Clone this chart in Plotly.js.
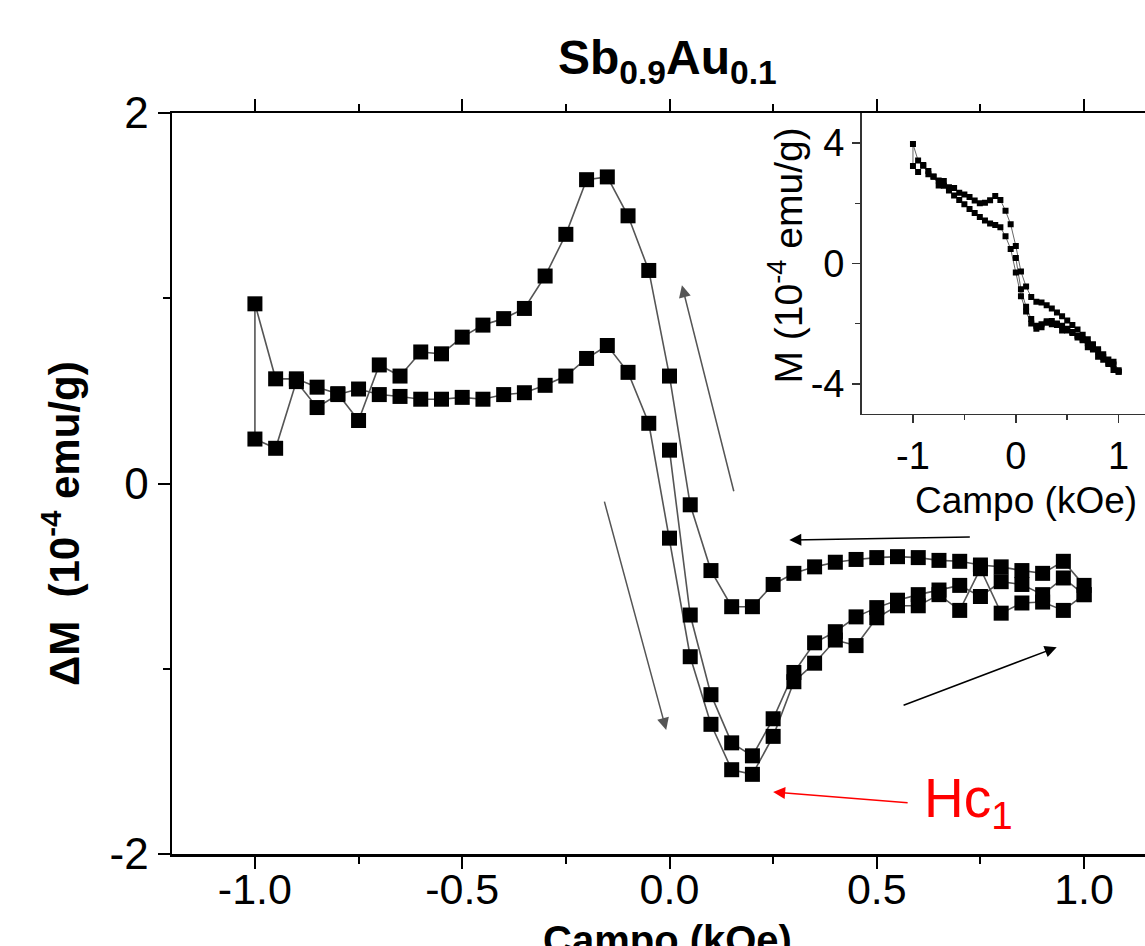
<!DOCTYPE html>
<html>
<head>
<meta charset="utf-8">
<script src="https://cdn.plot.ly/plotly-3.0.1.min.js"></script>
<style>
html,body{margin:0;padding:0;overflow:hidden;background:#fff;}
#chart{width:1200px;height:946px;}
</style>
</head>
<body>
<div id="chart"></div>
<script>
// Main plot: field sweeps (kOe) and ΔM (10^-4 emu/g)
var virginH = [0,0.05,0.1,0.15,0.2,0.25,0.3,0.35,0.4,0.45,0.5,0.55,0.6,0.65,0.7,0.75,0.8,0.85,0.9,0.95,1.0];
var virginDM = [0.18,-0.71,-1.14,-1.40,-1.47,-1.27,-1.02,-0.86,-0.80,-0.72,-0.67,-0.63,-0.60,-0.575,-0.55,-0.61,-0.53,-0.545,-0.60,-0.51,-0.60];

var downH = [1.0,0.95,0.9,0.85,0.8,0.75,0.7,0.65,0.6,0.55,0.5,0.45,0.4,0.35,0.3,0.25,0.2,0.15,0.1,0.05,0,-0.05,-0.1,-0.15,-0.2,-0.25,-0.3,-0.35,-0.4,-0.45,-0.5,-0.55,-0.6,-0.65,-0.7,-0.75,-0.8,-0.85,-0.9,-0.95,-1.0];
var downDM = [-0.55,-0.42,-0.485,-0.47,-0.45,-0.44,-0.42,-0.415,-0.40,-0.395,-0.40,-0.41,-0.425,-0.45,-0.485,-0.545,-0.665,-0.665,-0.47,-0.115,0.58,1.15,1.445,1.655,1.64,1.345,1.12,0.945,0.89,0.855,0.79,0.70,0.71,0.58,0.64,0.34,0.485,0.52,0.565,0.565,0.97];

var upH = [-1.0,-0.95,-0.9,-0.85,-0.8,-0.75,-0.7,-0.65,-0.6,-0.55,-0.5,-0.45,-0.4,-0.35,-0.3,-0.25,-0.2,-0.15,-0.1,-0.05,0,0.05,0.1,0.15,0.2,0.25,0.3,0.35,0.4,0.45,0.5,0.55,0.6,0.65,0.7,0.75,0.8,0.85,0.9,0.95,1.0];
var upDM = [0.24,0.19,0.55,0.41,0.48,0.51,0.48,0.47,0.455,0.455,0.465,0.455,0.48,0.49,0.53,0.58,0.675,0.745,0.60,0.325,-0.295,-0.935,-1.30,-1.545,-1.57,-1.365,-1.07,-0.97,-0.845,-0.875,-0.725,-0.66,-0.66,-0.60,-0.685,-0.46,-0.70,-0.645,-0.64,-0.685,-0.60];

// Inset: M (10^-4 emu/g) for the same sweeps
var virginM = [0.18,-0.86,-1.44,-1.85,-2.07,-2.02,-1.92,-1.91,-2.00,-2.07,-2.17,-2.28,-2.40,-2.53,-2.65,-2.86,-2.93,-3.10,-3.30,-3.36,-3.60];
var downM = [-3.55,-3.27,-3.19,-3.02,-2.85,-2.69,-2.52,-2.37,-2.20,-2.05,-1.90,-1.76,-1.63,-1.50,-1.39,-1.30,-1.27,-1.12,-0.77,-0.27,0.58,1.30,1.75,2.11,2.24,2.10,2.02,2.00,2.09,2.21,2.29,2.35,2.51,2.53,2.74,2.59,2.89,3.07,3.27,3.42,3.97];
var upM = [3.24,3.04,3.25,2.96,2.88,2.76,2.58,2.42,2.26,2.11,1.97,1.81,1.68,1.54,1.43,1.33,1.28,1.20,0.90,0.48,-0.30,-1.09,-1.60,-2.00,-2.17,-2.12,-1.97,-2.02,-2.05,-2.23,-2.23,-2.31,-2.46,-2.55,-2.79,-2.71,-3.10,-3.20,-3.34,-3.54,-3.60];

var mainTickVals = [-1.0,-0.5,0.0,0.5,1.0];
var mainTickText = ['-1.0','-0.5','0.0','0.5','1.0'];
var mainYTickVals = [-2,0,2];
var mainYTickText = ['-2','0','2'];
var insetXTickVals = [-1,0,1];
var insetXTickText = ['-1','0','1'];
var insetYTickVals = [-4,0,4];
var insetYTickText = ['-4','0','4'];

var FONT = 'Liberation Sans, Arial, Helvetica, sans-serif';

var mainTrace = {
  x: virginH.concat(downH, upH),
  y: virginDM.concat(downDM, upDM),
  xaxis: 'x', yaxis: 'y',
  mode: 'lines+markers',
  line: {color: '#555555', width: 1.6},
  marker: {symbol: 'square', size: 15, color: '#000000'},
  showlegend: false, hoverinfo: 'skip'
};
var insetTrace = {
  x: virginH.concat(downH, upH),
  y: virginM.concat(downM, upM),
  xaxis: 'x2', yaxis: 'y2',
  mode: 'lines+markers',
  line: {color: '#666666', width: 1},
  marker: {symbol: 'square', size: 6, color: '#000000'},
  showlegend: false, hoverinfo: 'skip'
};

function arrow(x, y, ax, ay, color, width) {
  return {x: x, y: y, ax: ax, ay: ay, xref: 'x', yref: 'y', axref: 'x', ayref: 'y',
    text: '', showarrow: true, arrowhead: 2, arrowsize: 1.6, arrowwidth: width, arrowcolor: color, standoff: 0, startstandoff: 0};
}

var layout = {
  width: 1200, height: 946,
  margin: {l: 172, r: 33, t: 113, b: 92},
  paper_bgcolor: '#ffffff', plot_bgcolor: '#ffffff',
  font: {family: FONT, color: '#000000'},
  showlegend: false,
  xaxis: {
    domain: [0, 1], range: [-1.2, 1.2],
    tickvals: mainTickVals, ticktext: mainTickText,
    ticks: 'outside', ticklen: 12, tickwidth: 2, tickcolor: '#000',
    ticklabelstandoff: -16,
    minor: {tickvals: [-0.75,-0.25,0.25,0.75], ticks: 'outside', ticklen: 7, tickwidth: 2, tickcolor: '#000'},
    showline: true, linewidth: 2.5, linecolor: '#000', mirror: 'ticks',
    showgrid: false, zeroline: false,
    tickfont: {family: FONT, size: 43, color: '#000'}
  },
  yaxis: {
    domain: [0, 1], range: [-2, 2],
    tickvals: mainYTickVals, ticktext: mainYTickText,
    ticks: 'outside', ticklen: 12, tickwidth: 2, tickcolor: '#000',
    minor: {tickvals: [-1, 1], ticks: 'outside', ticklen: 7, tickwidth: 2, tickcolor: '#000'},
    showline: true, linewidth: 2.5, linecolor: '#000', mirror: 'ticks',
    showgrid: false, zeroline: false,
    tickfont: {family: FONT, size: 44, color: '#000'}
  },
  xaxis2: {
    domain: [0.693, 1], anchor: 'y2', range: [-1.5, 1.47],
    tickvals: insetXTickVals, ticktext: insetXTickText,
    ticks: 'outside', ticklen: 8, tickwidth: 1.5, tickcolor: '#333',
    minor: {tickvals: [-0.5, 0.5], ticks: 'outside', ticklen: 5, tickwidth: 1.5, tickcolor: '#333'},
    showline: true, linewidth: 1.5, linecolor: '#333',
    showgrid: false, zeroline: false,
    tickfont: {family: FONT, size: 38, color: '#000'}
  },
  xaxis3: {
    overlaying: 'x2', side: 'top', anchor: 'free', position: 1, range: [-1.5, 1.47],
    tickvals: [-1.5, -1, -0.5, 0, 0.5, 1], ticks: 'inside', ticklen: 6, tickwidth: 1.5, tickcolor: '#333',
    showticklabels: false, showline: false, showgrid: false, zeroline: false
  },
  yaxis2: {
    domain: [0.594, 1], anchor: 'x2', range: [-5, 5],
    tickvals: insetYTickVals, ticktext: insetYTickText,
    ticks: 'outside', ticklen: 8, tickwidth: 1.5, tickcolor: '#333',
    minor: {tickvals: [-2, 2], ticks: 'outside', ticklen: 5, tickwidth: 1.5, tickcolor: '#333'},
    showline: true, linewidth: 1.5, linecolor: '#333',
    showgrid: false, zeroline: false,
    tickfont: {family: FONT, size: 38, color: '#000'}
  },
  annotations: [
    {text: '<b>Sb<sub>0.9</sub>Au<sub>0.1</sub></b>', xref: 'paper', yref: 'paper', x: 0.498, y: 1.0, yshift: 20,
     xanchor: 'center', yanchor: 'bottom', showarrow: false, font: {family: FONT, size: 48, color: '#000'}},
    {text: '<b>Campo (kOe)</b>', xref: 'paper', yref: 'paper', x: 0.498, y: -0.083,
     xanchor: 'center', yanchor: 'top', showarrow: false, font: {family: FONT, size: 40, color: '#000'}},
    {text: '<b>ΔM  (10<sup>-4</sup> emu/g)</b>', xref: 'paper', yref: 'paper', x: -0.1, y: 0.446, xshift: -12,
     xanchor: 'center', yanchor: 'middle', textangle: -90, showarrow: false, font: {family: FONT, size: 42, color: '#000'}},
    {text: 'Campo (kOe)', xref: 'paper', yref: 'paper', x: 0.858, y: 0.594, yshift: -64,
     xanchor: 'center', yanchor: 'top', showarrow: false, font: {family: FONT, size: 37, color: '#000'}},
    {text: 'M (10<sup>-4</sup> emu/g)', xref: 'paper', yref: 'paper', x: 0.693, y: 0.807, xshift: -77,
     xanchor: 'center', yanchor: 'middle', textangle: -90, showarrow: false, font: {family: FONT, size: 39, color: '#000'}},
    {text: 'Hc<sub>1</sub>', xref: 'x', yref: 'y', x: 0.61, y: -1.72,
     xanchor: 'left', yanchor: 'middle', showarrow: false, font: {family: FONT, size: 55, color: '#ff0000'}},
    arrow(0.03, 1.07, 0.156, -0.05, '#555555', 1.5),
    arrow(-0.008, -1.33, -0.158, -0.09, '#555555', 1.5),
    arrow(0.289, -0.305, 0.728, -0.289, '#000000', 1.5),
    arrow(0.934, -0.884, 0.561, -1.20, '#000000', 1.5),
    arrow(0.25, -1.665, 0.578, -1.724, '#ff0000', 1.5)
  ]
};

Plotly.newPlot('chart', [mainTrace, insetTrace], layout, {staticPlot: true, displayModeBar: false});
</script>
</body>
</html>
